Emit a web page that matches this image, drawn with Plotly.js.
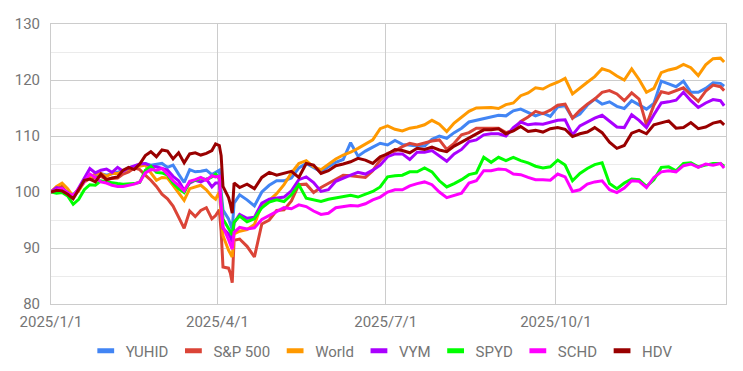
<!DOCTYPE html>
<html>
<head>
<meta charset="utf-8">
<script src="https://cdn.plot.ly/plotly-3.0.1.min.js"></script>
<style>html,body{margin:0;padding:0;background:#fff;}#chart{width:743px;height:371px;}</style>
</head>
<body>
<div id="chart"></div>
<script>
var dates = ["2025-01-01","2025-01-04","2025-01-07","2025-01-10","2025-01-13","2025-01-16","2025-01-19","2025-01-22","2025-01-25","2025-01-28",
"2025-01-31","2025-02-03","2025-02-06","2025-02-09","2025-02-12","2025-02-15","2025-02-18","2025-02-21","2025-02-24","2025-02-27",
"2025-03-02","2025-03-05","2025-03-08","2025-03-11","2025-03-14","2025-03-17","2025-03-20","2025-03-23","2025-03-26","2025-03-29","2025-03-31",
"2025-04-02","2025-04-03","2025-04-04","2025-04-07","2025-04-08","2025-04-09","2025-04-10",
"2025-04-13","2025-04-17","2025-04-21","2025-04-25","2025-04-29","2025-05-03","2025-05-07","2025-05-11","2025-05-15","2025-05-19",
"2025-05-23","2025-05-27","2025-05-31","2025-06-04","2025-06-08","2025-06-12","2025-06-16","2025-06-20","2025-06-24","2025-06-28",
"2025-07-02","2025-07-06","2025-07-10","2025-07-14","2025-07-18","2025-07-22","2025-07-26","2025-07-30","2025-08-03","2025-08-07",
"2025-08-11","2025-08-15","2025-08-19","2025-08-23","2025-08-27","2025-08-31","2025-09-04","2025-09-08","2025-09-12","2025-09-16",
"2025-09-20","2025-09-24","2025-09-28","2025-10-02","2025-10-06","2025-10-10","2025-10-14","2025-10-18","2025-10-22","2025-10-26",
"2025-10-30","2025-11-03","2025-11-07","2025-11-11","2025-11-15","2025-11-19","2025-11-23","2025-11-27","2025-12-01","2025-12-05",
"2025-12-09","2025-12-13","2025-12-17","2025-12-21","2025-12-25","2025-12-29","2025-12-31"];

var yuhid = [100,100.6,100.8,99.8,99.5,100.5,102,102.6,102.8,103.3,
103,103.3,103.6,103.8,104.3,104.6,104.8,105.1,104.8,104.9,
105.1,104.4,104.8,103.2,101.7,104,103.6,103.7,103.9,103.1,103.5,
103.9,100,96.8,95.2,94.4,93.3,98,
99.5,98.6,97.5,100,101.2,102,102,102.5,104.3,105.1,
104.3,103.6,104.5,105.3,105.8,108.8,106.4,107.3,108,108.7,
108.4,109.2,108.5,108.3,108.2,108.2,109.4,110,109.6,110.6,
111.4,112.5,112.8,113.1,113.4,113.7,113.6,114.5,114.8,114.2,
113.6,114.1,113.5,115.2,115.4,113.2,113.9,115.5,116.6,115.7,
116.1,115.3,114.9,116.3,115.5,114.8,115.8,119.8,119.3,118.8,
119.8,117.8,117.8,118.5,119.5,119.4,118.9];

var sp500 = [100,100.6,101,99.5,99.2,100.5,101.8,102.4,102.5,102.8,
102.3,102.4,102.5,103.2,103.6,104.3,104,103,102.1,101,
99.6,98.8,97.5,95.5,93.5,96.6,95.6,96.7,97.2,95.2,95.8,
96.8,93,86.6,86.4,85.5,83.8,91.4,
91.6,90.3,88.4,94.3,95,96.7,96.8,98.4,101.3,101.4,
99.9,100.8,101.5,102.3,103,102.9,102.8,102.6,103.8,105.7,
106.9,107.3,108.1,108.7,108.4,108.8,109.1,109.3,107.6,108.7,
110.2,110.6,111.4,111.4,111.4,111.4,110.6,111,112.6,113.4,
114.4,114,114.6,115.5,115.7,113.2,114.6,115.7,116.6,117.8,
118.1,117.5,116.3,117.7,116.6,112,115.5,117.9,117.6,118.1,
118.6,117.4,116.2,118,119.1,118.8,118.1];

var world = [100,101,101.6,100.6,99.2,100.2,101.8,102.6,103.2,103.3,
102.8,103.3,103.3,103.7,104.2,104.5,104.6,104.8,103.4,102.1,
102.6,102.5,101.2,99.8,98.5,100.6,100.9,101.2,100.4,99.2,98.7,
100,96,92.2,89.6,89,88.4,92.5,
93,93.3,94.2,97.8,98.5,99.7,101.3,103.4,105.1,105.6,
104.5,104,105,105.9,106.6,107.1,107.8,108.6,109.3,111.3,
111.8,111.2,110.9,111.4,111.6,112,112.8,112.1,110.8,112.3,
113.3,114.4,115,115,115.1,114.9,115.6,115.9,117.2,117.7,
118.6,118.4,119.1,119.6,120.3,117.5,118.6,119.6,120.6,122,
121.6,120.7,120,122,120.1,117.8,118.5,121.3,121.8,122.1,
122.8,122.2,120.8,122.7,123.8,123.9,123.2];

var vym = [100,100.8,100.6,99.9,99,100.8,102.6,104.2,103.4,103.9,
104.1,103.5,104.4,103.7,104.3,104.7,105,105.1,104.6,104.5,
104.2,103.9,102.8,102,100.3,101.6,102.1,101.8,102.3,100.9,101.6,
101.6,97.5,93.5,92.5,92,91,94.5,
96,95.3,95.5,98,98.7,98.9,99.1,100.2,102.2,102.7,
101.7,100.1,100.4,101.9,102.5,103,103.5,103.2,103.9,104.8,
106.3,106.8,106.8,105.8,107.1,107.1,107.4,106.4,105.5,106.8,
107.6,109,109.3,110.2,110.4,110.4,110,111.5,112.5,112,
112.2,112.1,112.4,112.8,112.9,110.2,111.8,112.5,113.2,113.7,
112.7,111.6,111.5,113.8,112.8,111.5,113.8,115.9,116.1,116.4,
117.8,116.3,115.1,115.9,116.5,116.3,115.4];

var spyd = [100,99.8,99.9,99.3,97.8,98.7,100.4,101.3,101.2,102,
101.8,101.6,101.5,101.4,101.4,101.5,101.7,103.9,104.6,103.5,
103.4,103,101.6,100.6,99.9,101.8,102.1,102.5,102.2,102.7,103.2,
102.4,99,95.2,93.5,93,92.3,94.6,
95.7,94.7,95.2,97.2,98.2,98.6,98.3,99.5,101.3,98.9,
98.6,98.3,98.7,98.9,99.1,99.4,99.1,99.6,100.1,100.9,
102.7,102.9,103,103.6,103.6,104.3,103.6,102,100.9,101.5,
102.2,103.1,103.4,106.2,105.3,106.2,105.6,106.2,105.6,105.2,
104.6,104.3,104.5,105.7,104.8,102,103.3,104.2,104.9,105.2,
101.5,100.6,101.6,102.3,102.2,101,102.2,104.4,104.5,103.8,
105.1,105.2,104.5,104.8,105.1,105.1,104.6];

var schd = [100,100.4,100.6,99.8,99.4,100.5,101.8,103.2,102.6,101.8,
101.6,101.2,101,101,101.2,101.4,101.8,103.4,104,103.9,
104.2,103.2,102,101.2,100.2,101.9,102.2,102.6,102.1,102.9,102.7,
102.8,98,93.8,91.5,90.8,89.8,92.8,
93.7,93.4,93.6,95.1,95.8,96.4,97.2,97,97.7,97.4,
96.6,96,96.2,97.2,97.4,97.6,97.5,97.9,98.6,99.1,
100,100.4,100.4,101.1,101.5,101.8,101.3,100,99,99.4,
99.8,101.6,102,103.8,103.8,104.1,104,103.2,103.1,102.6,
102.2,102.2,102.1,103.2,102.7,100.1,100.4,101.4,101.8,102,
100.4,99.9,100.7,102,101.9,100.8,102.6,103.6,103.8,103.6,
104.7,105,104.4,105,104.8,105.1,104.3];

var hdv = [100,100.3,100.2,99.6,98.8,100.5,102.1,102.3,101.8,103.2,
102.2,102.5,102.7,103.9,104.4,104,105,106.5,107.2,106.3,
107.5,107.3,105.9,107,105.2,106.8,107,106.6,106.9,107.4,108.6,
108.3,106.5,101,99,97.8,96.2,101.6,
100.8,101.4,100.6,102.6,103.5,103,103.4,103.7,102.6,105.1,
104.8,103.3,103.8,104.7,105,105.4,106,105.7,105.1,106.3,
106.8,107.6,107.4,107,107.8,107.6,108,107.5,107.2,108.2,
108.9,109.6,110.3,111.1,111.1,111.3,110.4,110.9,111.7,110.8,
111,110.7,111.3,111.5,111.2,109.9,110.4,110.7,111.5,110.6,
108.9,107.8,108.3,110.5,111,110.4,112,112.4,112.7,111.4,
111.5,112.4,111.3,111.6,112.3,112.6,112];

var seriesNames = ["YUHID","S&P 500","World","VYM","SPYD","SCHD","HDV"];
var seriesColors = ["#4285f4","#db4437","#ff9900","#aa00ff","#00ff00","#ff00ff","#990000"];
var xTickVals = ["2025-01-01","2025-04-01","2025-07-01","2025-10-01"];
var xTickText = ["2025/1/1","2025/4/1","2025/7/1","2025/10/1"];

var allSeries = [yuhid, sp500, world, vym, spyd, schd, hdv];
var traces = [];
allSeries.forEach(function(vals, i){
  traces.push({
    x: dates, y: vals, type: 'scatter', mode: 'lines',
    name: seriesNames[i], showlegend: false,
    line: {color: seriesColors[i], width: 3},
    hoverinfo: 'skip'
  });
});
seriesNames.forEach(function(n, i){
  traces.push({
    x: [null], y: [null], type: 'scatter', mode: 'markers', name: n,
    marker: {symbol: 'line-ew', size: 12, color: seriesColors[i], line: {width: 5, color: seriesColors[i]}}
  });
});

var tickFont = {family: 'Roboto, Arial, sans-serif', size: 15, color: '#757575'};
var layout = {
  width: 743, height: 371,
  margin: {l: 51, r: 17, t: 24, b: 67},
  paper_bgcolor: '#ffffff', plot_bgcolor: '#ffffff',
  font: tickFont,
  xaxis: {
    type: 'date', range: ['2025-01-01', '2026-01-01'],
    tickmode: 'array', tickvals: xTickVals, ticktext: xTickText,
    showgrid: true, gridcolor: '#cccccc', gridwidth: 1,
    showline: true, linecolor: '#cccccc', linewidth: 1, mirror: true,
    zeroline: false, ticks: '', tickfont: tickFont, ticklabelstandoff: 4
  },
  yaxis: {
    range: [80, 130], tick0: 80, dtick: 10,
    showgrid: true, gridcolor: '#cccccc', gridwidth: 1,
    minor: {dtick: 5, tick0: 80, showgrid: true, gridcolor: '#ebebeb', gridwidth: 1, ticks: ''},
    showline: true, linecolor: '#cccccc', linewidth: 1, mirror: true,
    zeroline: false, ticks: '', tickfont: tickFont, ticklabelstandoff: 7
  },
  showlegend: true,
  legend: {
    orientation: 'h', x: 0.49, xanchor: 'center',
    yref: 'container', y: 0.054, yanchor: 'middle',
    font: {family: 'Roboto, Arial, sans-serif', size: 15, color: '#757575'},
    itemwidth: 30, bgcolor: 'rgba(0,0,0,0)'
  }
};

Plotly.newPlot('chart', traces, layout, {staticPlot: true, displayModeBar: false});
</script>
</body>
</html>
